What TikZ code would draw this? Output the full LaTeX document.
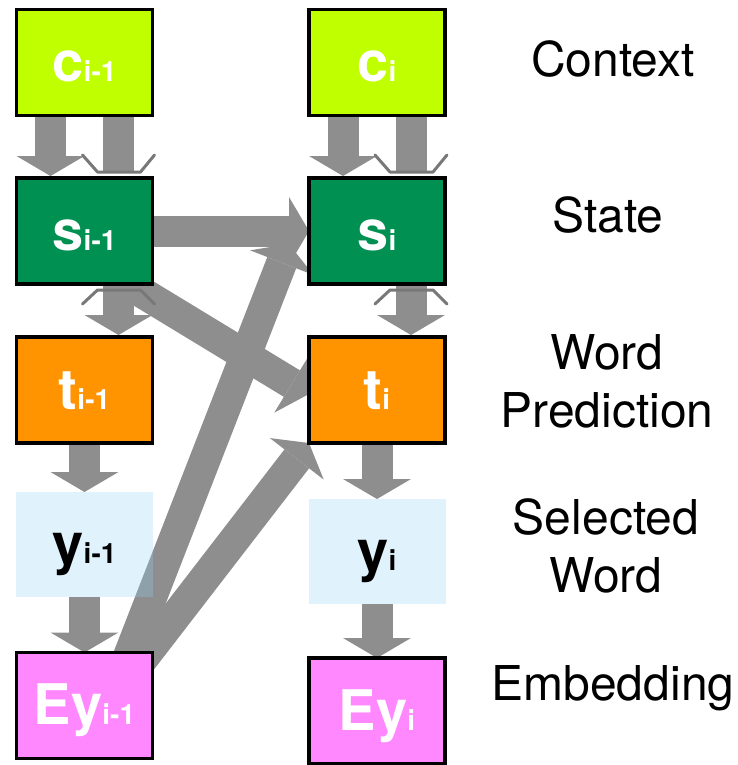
\documentclass[tikz,border=0pt]{standalone}
\usepackage{fontspec}
\setmainfont{TeX Gyre Heros}
\usepackage{tikz}
\usetikzlibrary{positioning, arrows.meta, backgrounds}

\definecolor{ctxgreen}{RGB}{192,255,0}
\definecolor{stategreen}{RGB}{0,144,81}
\definecolor{predorange}{RGB}{255,147,0}
\definecolor{wordblue}{RGB}{144,212,244}
\definecolor{embpink}{RGB}{255,136,255}
\definecolor{flowgray}{RGB}{142,142,142}
\definecolor{chevgray}{RGB}{120,120,120}

\newcommand{\blab}[2]{\fontsize{56}{56}\selectfont #1\fontsize{28}{28}\selectfont #2}

\begin{document}
\begin{tikzpicture}[
        x=1pt, y=-1pt,
        bx/.style={draw=black, line width=3.5pt, minimum width=136pt,
          minimum height=106pt, inner sep=0pt, outer sep=0pt, text height=38pt,
          text depth=0pt, font=\bfseries, text=white},
        pale/.style={fill=wordblue, fill opacity=0.28, text opacity=1,
          minimum width=137pt, minimum height=105pt, inner sep=0pt, outer sep=0pt,
          text height=38pt, text depth=0pt, font=\bfseries, text=black},
        fat/.style={draw=flowgray, line width=31pt,
          -{Triangle[length=20pt,width=68pt,line width=0pt]}},
        chev/.style={draw=chevgray, line width=3pt, line join=round, line cap=round},
        lbl/.style={font=\fontsize{48}{58}\selectfont, align=center, inner sep=0pt}
      ]
      \useasboundingbox (0,0) rectangle (738,765);
      \node[bx, fill=ctxgreen] (c1) at (84.5,62.5) {\blab{c}{i-1}};
      \node[bx, fill=stategreen] (s1) [below=62.5pt of c1] {\blab{s}{i-1}};
      \node[bx, fill=predorange] (t1) [below=53pt of s1] {\blab{t}{i-1}};
      \node[pale] (y1) [below=49pt of t1] {\blab{y}{i-1}};
      \node[bx, fill=embpink] (Ey1) [below=55.5pt of y1] {\blab{Ey}{i-1}};
      \node[bx, fill=ctxgreen] (c2) [right=156.5pt of c1] {\blab{c}{i}};
      \node[bx, fill=stategreen] (s2) [right=156.5pt of s1] {\blab{s}{i}};
      \node[bx, fill=predorange] (t2) [right=156.5pt of t1] {\blab{t}{i}};
      \node[pale] (y2) [below=56pt of t2] {\blab{y}{i}};
      \node[bx, fill=embpink] (Ey2) [below=54pt of y2] {\blab{Ey}{i}};
      \node[lbl, anchor=base] (lc) at (613,77) {Context};
      \node[lbl, anchor=base] (ls) at (608,232) {State};
      \node[lbl, anchor=north] (lt) at (607,334) {Word\\Prediction};
      \node[lbl, anchor=north] (ly) at (606,498) {Selected\\Word};
      \node[lbl, anchor=base] (le) at (613,700) {Embedding};
      \begin{scope}[on background layer]
        \draw[fat] ([xshift=-34pt]c1.south) -- ([xshift=-34pt, yshift=2pt]s1.north);
        \draw[fat, -] ([xshift=34pt]c1.south) -- ([xshift=34pt, yshift=6pt]s1.north);
        \draw[fat] ([xshift=34pt]s1.south) -- ([xshift=34pt, yshift=2pt]t1.north);
        \draw[fat] (t1.south) -- (y1.north);
        \draw[fat] (y1.south) -- (Ey1.north);
        \draw[fat] ([xshift=-34pt]c2.south) -- ([xshift=-34pt, yshift=2pt]s2.north);
        \draw[fat, -] ([xshift=34pt]c2.south) -- ([xshift=34pt, yshift=6pt]s2.north);
        \draw[fat] ([xshift=34pt]s2.south) -- ([xshift=34pt, yshift=2pt]t2.north);
        \draw[fat] (t2.south) -- (y2.north);
        \draw[fat] (y2.south) -- (Ey2.north);
        \draw[fat, shorten <=-20pt] ([xshift=45.5pt]Ey1.north) -- ([xshift=-20pt, yshift=-13pt]s2.west);
        \draw[fat, shorten <=-20pt] ([xshift=-5pt]Ey1.north east) -- (t2.south west);
        \draw[fat, shorten <=-20pt] ([xshift=43.5pt]s1.south) -- ([yshift=-4pt]t2.west);
        \draw[fat] (s1.east) -- (s2.west);
        \draw[chev, shift={(s1.north)}] (-2,-23) -- (13,-6) -- (56,-6) -- (70,-23);
        \draw[chev, shift={(s1.south)}] (-2,20) -- (13,6) -- (56,6) -- (70,20);
        \draw[chev, shift={(s2.north)}] (-2,-23) -- (13,-6) -- (56,-6) -- (70,-23);
        \draw[chev, shift={(s2.south)}] (-2,20) -- (13,6) -- (56,6) -- (70,20);
      \end{scope}
    \end{tikzpicture}
\end{document}
